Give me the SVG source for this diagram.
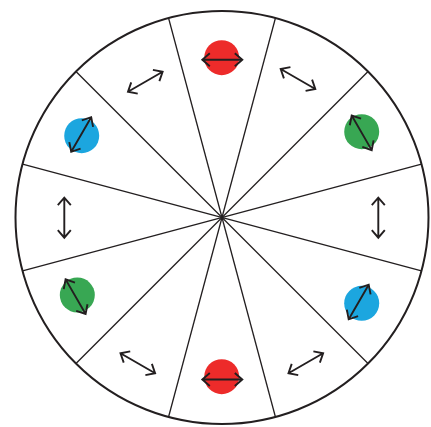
<svg xmlns="http://www.w3.org/2000/svg" width="431" height="427" viewBox="0 0 431 427">
<style>
.rim{fill:#fff;stroke:#231f20;stroke-width:2}
.spoke{stroke:#231f20;stroke-width:1.3;fill:none}
.arr{stroke:#231f20;stroke-width:1.9;fill:none;stroke-linejoin:miter}
.red{fill:#ED2B2A}
.green{fill:#38A753}
.blue{fill:#1CA6DF}
</style>
<defs>
<g id="arr"><path class="arr" d="M-20,0 H20 M-12.5,-6.5 L-20,0 L-12.5,6.5 M12.5,-6.5 L20,0 L12.5,6.5"/></g>
</defs>
<rect width="431" height="427" fill="#fff"/>
<circle class="rim" cx="222" cy="217.5" r="206.5"/>
<g id="spokes">
<line class="spoke" x1="275.45" y1="18.04" x2="168.55" y2="416.96"/>
<line class="spoke" x1="368.02" y1="71.48" x2="75.98" y2="363.52"/>
<line class="spoke" x1="421.46" y1="164.05" x2="22.54" y2="270.95"/>
<line class="spoke" x1="421.46" y1="270.95" x2="22.54" y2="164.05"/>
<line class="spoke" x1="368.02" y1="363.52" x2="75.98" y2="71.48"/>
<line class="spoke" x1="275.45" y1="416.96" x2="168.55" y2="18.04"/>
</g>
<g id="n0"><circle class="red" cx="221.7" cy="57.7" r="17.5"/><use href="#arr" transform="translate(222.3 59.7) rotate(0)"/></g>
<g id="n30"><use href="#arr" transform="translate(298 79) rotate(30)"/></g>
<g id="n60"><circle class="green" cx="361.7" cy="131.7" r="17.5"/><use href="#arr" transform="translate(361.7 132.8) rotate(60)"/></g>
<g id="n90"><use href="#arr" transform="translate(378.3 217.7) rotate(90)"/></g>
<g id="n120"><circle class="blue" cx="361.7" cy="303.3" r="17.5"/><use href="#arr" transform="translate(358.7 302) rotate(120)"/></g>
<g id="n150"><use href="#arr" transform="translate(305.8 363.3) rotate(150)"/></g>
<g id="n180"><circle class="red" cx="221.7" cy="376.7" r="17.5"/><use href="#arr" transform="translate(222.3 379.5) rotate(180)"/></g>
<g id="n210"><use href="#arr" transform="translate(137.8 363.3) rotate(210)"/></g>
<g id="n240"><circle class="green" cx="77.3" cy="295" r="17.5"/><use href="#arr" transform="translate(75.6 296.7) rotate(240)"/></g>
<g id="n270"><use href="#arr" transform="translate(64.3 217.7) rotate(270)"/></g>
<g id="n300"><circle class="blue" cx="81.7" cy="135.7" r="17.5"/><use href="#arr" transform="translate(81.2 134.5) rotate(300)"/></g>
<g id="n330"><use href="#arr" transform="translate(145.3 81.7) rotate(330)"/></g>
</svg>
